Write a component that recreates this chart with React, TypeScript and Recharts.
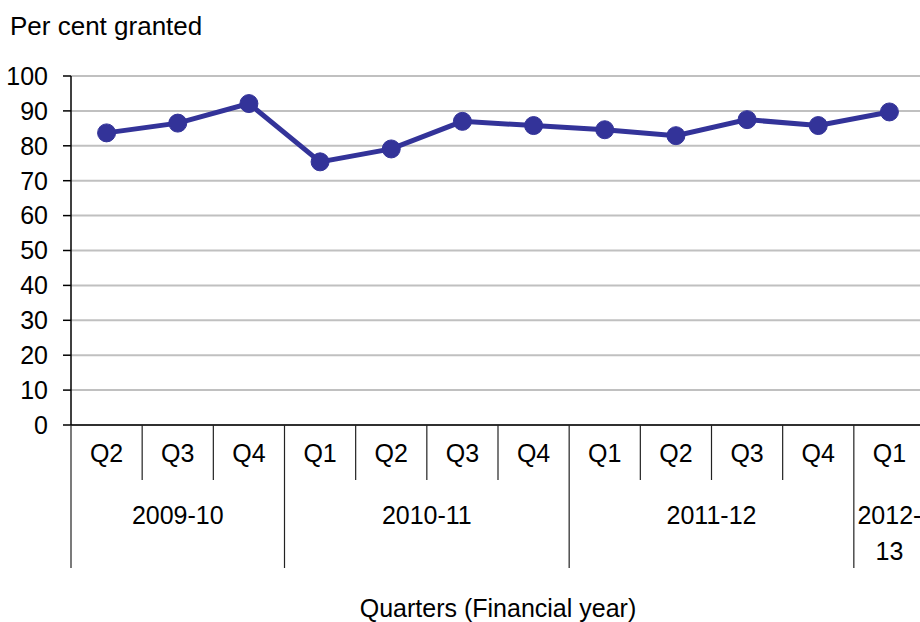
import React from 'react';
import { LineChart, Line, XAxis, YAxis, CartesianGrid } from 'recharts';

const quarters = ['Q2', 'Q3', 'Q4', 'Q1', 'Q2', 'Q3', 'Q4', 'Q1', 'Q2', 'Q3', 'Q4', 'Q1'];
const years = [
    '2009-10', '2009-10', '2009-10',
    '2010-11', '2010-11', '2010-11', '2010-11',
    '2011-12', '2011-12', '2011-12', '2011-12',
    '2012-13',
];
const granted = [83.7, 86.5, 92.1, 75.4, 79.1, 87.0, 85.8, 84.6, 82.9, 87.5, 85.8, 89.7];
const yTicks = [0, 10, 20, 30, 40, 50, 60, 70, 80, 90, 100];

const data = quarters.map((q, i) => ({ key: `${years[i]} ${q}`, q, year: years[i], value: granted[i] }));

const W = 920;
const H = 622;
const LEFT = 71;
const RIGHT = -5;
const TOP = 76;
const BOTTOM = 197;
const BAND = (W - LEFT - RIGHT) / quarters.length;
const FONT = '"Liberation Sans", Arial, sans-serif';
const COLOR = '#333399';

function QuarterTick(props: any) {
    const { x, y, payload } = props;
    const i = payload.index;
    const left = x - BAND / 2;
    const startsYear = i === 0 || years[i] !== years[i - 1];
    let groupSize = 0;
    if (startsYear) {
        while (i + groupSize < years.length && years[i + groupSize] === years[i]) groupSize++;
    }
    const label = years[i];
    const cut = label.indexOf('-') + 1;
    const lines = groupSize === 1 ? [label.slice(0, cut), label.slice(cut)] : [label];
    const cx = left + (groupSize * BAND) / 2;
    return (
        <g>
            <line x1={left} x2={left} y1={y} y2={startsYear ? y + 143 : y + 55} stroke="#222" strokeWidth={1.2} />
            <text x={x} y={y + 37} textAnchor="middle" fontSize={25} fill="#000" fontFamily={FONT}>
                {quarters[i]}
            </text>
            {startsYear &&
                lines.map((ln, k) => (
                    <text key={k} x={cx} y={y + 99 + k * 36} textAnchor="middle" fontSize={25} fill="#000" fontFamily={FONT}>
                        {ln}
                    </text>
                ))}
        </g>
    );
}

export default function App() {
    return (
        <div style={{ position: 'absolute', left: 0, top: 0, width: W, height: H, background: '#fff', fontFamily: FONT }}>
            <div style={{ position: 'absolute', left: 10, top: 11, fontSize: 26, color: '#000', whiteSpace: 'nowrap' }}>
                Per cent granted
            </div>
            <LineChart width={W} height={H} data={data} margin={{ top: TOP, right: RIGHT, bottom: 0, left: 0 }}>
                <CartesianGrid vertical={false} stroke="#c0c0c0" strokeWidth={2} />
                <XAxis
                    dataKey="key"
                    height={BOTTOM}
                    padding={{ left: BAND / 2, right: BAND / 2 }}
                    axisLine={{ stroke: '#000', strokeWidth: 1.5 }}
                    tickLine={false}
                    tickSize={0}
                    tickMargin={0}
                    interval={0}
                    tick={<QuarterTick />}
                />
                <YAxis
                    width={LEFT}
                    domain={[0, 100]}
                    ticks={yTicks}
                    interval={0}
                    axisLine={{ stroke: '#000', strokeWidth: 1.5 }}
                    tickLine={{ stroke: '#000', strokeWidth: 1.5 }}
                    tickSize={8}
                    tickMargin={15}
                    tick={{ fontSize: 25, fill: '#000', fontFamily: FONT }}
                />
                <Line
                    type="linear"
                    dataKey="value"
                    stroke={COLOR}
                    strokeWidth={5}
                    dot={{ r: 9, fill: COLOR, stroke: COLOR, strokeWidth: 1 }}
                    isAnimationActive={false}
                />
            </LineChart>
            <div style={{ position: 'absolute', left: 298, top: 594, width: 400, textAlign: 'center', fontSize: 25, color: '#000' }}>
                Quarters (Financial year)
            </div>
        </div>
    );
}
